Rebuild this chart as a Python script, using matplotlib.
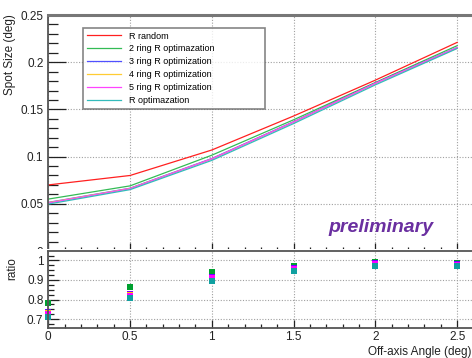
import matplotlib.pyplot as plt
from matplotlib.patches import Rectangle
from matplotlib.ticker import MultipleLocator

plt.rcParams['font.family'] = ['Liberation Sans', 'DejaVu Sans']

# off-axis angles (deg)
angles = [0.0, 0.5, 1.0, 1.5, 2.0, 2.5]

# spot size (deg) per configuration
r_random = [0.070, 0.080, 0.107, 0.143, 0.181, 0.221]
ring2_opt = [0.055, 0.069, 0.1015, 0.139, 0.1785, 0.2175]
ring3_opt = [0.0515, 0.0665, 0.098, 0.137, 0.178, 0.2155]
ring4_opt = [0.0512, 0.0662, 0.0975, 0.1365, 0.1775, 0.215]
ring5_opt = [0.0508, 0.066, 0.0975, 0.1365, 0.1775, 0.2155]
r_opt = [0.0497, 0.065, 0.096, 0.135, 0.176, 0.2145]

# ratio to R random
ratio_2 = [0.785, 0.865, 0.940, 0.972, 0.990, 0.985]
ratio_3 = [0.735, 0.830, 0.915, 0.960, 0.985, 0.980]
ratio_4 = [0.730, 0.825, 0.910, 0.955, 0.982, 0.978]
ratio_5 = [0.725, 0.820, 0.910, 0.955, 0.982, 0.978]
ratio_r = [0.710, 0.810, 0.895, 0.945, 0.972, 0.970]

labels = ["R random", "2 ring R optimazation", "3 ring R optimization",
          "4 ring R optimization", "5 ring R optimization", "R optimazation"]
line_colors = ['#ff2020', '#33bb55', '#5050ff', '#ffcc33', '#ff44ff', '#33bbbb']
marker_colors = ['#00a030', '#7000ff', '#ffcc00', '#ff00ff', '#10a0a0']

W, H = 472, 358
fig = plt.figure(figsize=(W / 100, H / 100), dpi=100)

left = 48.3 / W
width = (473.5 - 48.3) / W
ax1 = fig.add_axes([left, 1 - 251 / H, width, (251 - 15) / H])
ax2 = fig.add_axes([left, 1 - 328 / H, width, (328 - 251) / H])
ax1.set_zorder(0)
ax2.set_zorder(2)
# white "pad" hiding the lower part of the top panel's tick labels
fig.add_artist(Rectangle((0, 0), 1, 1 - 248.5 / H, transform=fig.transFigure,
                         facecolor='white', edgecolor='none', zorder=1))

series = [r_random, ring2_opt, ring3_opt, ring4_opt, ring5_opt, r_opt]
for vals, lab, col in zip(series, labels, line_colors):
    ax1.plot(angles, vals, color=col, lw=0.9, label=lab)

ratios = [ratio_2, ratio_3, ratio_4, ratio_5, ratio_r]
for vals, col in zip(ratios, marker_colors):
    ax2.plot(angles, vals, 's', color=col, ms=4.8, mew=0, clip_on=False)

grid_kw = dict(color='#a0a0a0', linestyle=(0, (1, 1.5)), linewidth=0.8)
for ax in (ax1, ax2):
    ax.set_xlim(0, 2.6)
    ax.xaxis.set_major_locator(MultipleLocator(0.5))
    ax.xaxis.set_minor_locator(MultipleLocator(0.1))
    ax.grid(True, which='major', **grid_kw)
    ax.set_axisbelow(True)
    for s in ax.spines.values():
        s.set_color('#555555')
        s.set_linewidth(1.3)
    ax.tick_params(which='both', direction='in', top=False, right=False,
                   labelsize=8.5, colors='#222222', width=0.9)

ax1.set_ylim(0, 0.25)
ax1.yaxis.set_minor_locator(MultipleLocator(0.01))
ax1.set_yticks([0, 0.05, 0.1, 0.15, 0.2, 0.25])
ax1.set_yticklabels(['0', '0.05', '0.1', '0.15', '0.2', '0.25'])
ax1.tick_params(axis='y', which='major', length=13)
ax1.tick_params(axis='y', which='minor', length=7)
ax1.tick_params(axis='x', which='major', length=6)
ax1.tick_params(axis='x', which='minor', length=3)
ax1.tick_params(axis='x', labelbottom=False)
ax1.spines['top'].set_linewidth(2.2)
ax1.spines['top'].set_color('#777777')

ax2.set_ylim(0.655, 1.048)
ax2.set_yticks([0.7, 0.8, 0.9, 1.0])
ax2.set_yticklabels(['0.7', '0.8', '0.9', '1'])
ax2.yaxis.set_minor_locator(MultipleLocator(0.025))
ax2.tick_params(axis='y', which='major', length=8)
ax2.tick_params(axis='y', which='minor', length=4)
ax2.tick_params(axis='x', which='major', length=6, pad=2)
ax2.tick_params(axis='x', which='minor', length=3)
ax2.set_xticks([0, 0.5, 1, 1.5, 2, 2.5])
ax2.set_xticklabels(['0', '0.5', '1', '1.5', '2', '2.5'])

fig.text(10 / W, 1 - 14 / H, "Spot Size (deg)", rotation=90, ha='center',
         va='top', fontsize=8.5, color='#222222')
fig.text(12 / W, 1 - 257 / H, "ratio", rotation=90, ha='center',
         va='top', fontsize=8.5, color='#222222')
fig.text(471 / W, 1 - 352 / H, "Off-axis Angle (deg)", ha='right',
         va='center', fontsize=8.5, color='#222222')

aw = 473.5 - 48.3
ah = 251 - 15
leg = ax1.legend(loc='upper left',
                 bbox_to_anchor=((83 - 48.3) / aw, (251 - 107) / ah,
                                 (265 - 83) / aw, (107 - 28) / ah),
                 mode='expand', fontsize=6.5, frameon=True, fancybox=False,
                 handlelength=3.8, handletextpad=0.9, labelspacing=0.43,
                 borderpad=0.4, borderaxespad=0)
leg.get_frame().set_edgecolor('#666666')
leg.get_frame().set_linewidth(1.2)

ax1.text((381 - 48.3) / aw, (251 - 228) / ah,
         "preliminary", transform=ax1.transAxes, ha='center', va='center',
         fontsize=14, fontweight='bold', fontstyle='italic', color='#6a2fa0')

fig.savefig("out.png", dpi=100)
